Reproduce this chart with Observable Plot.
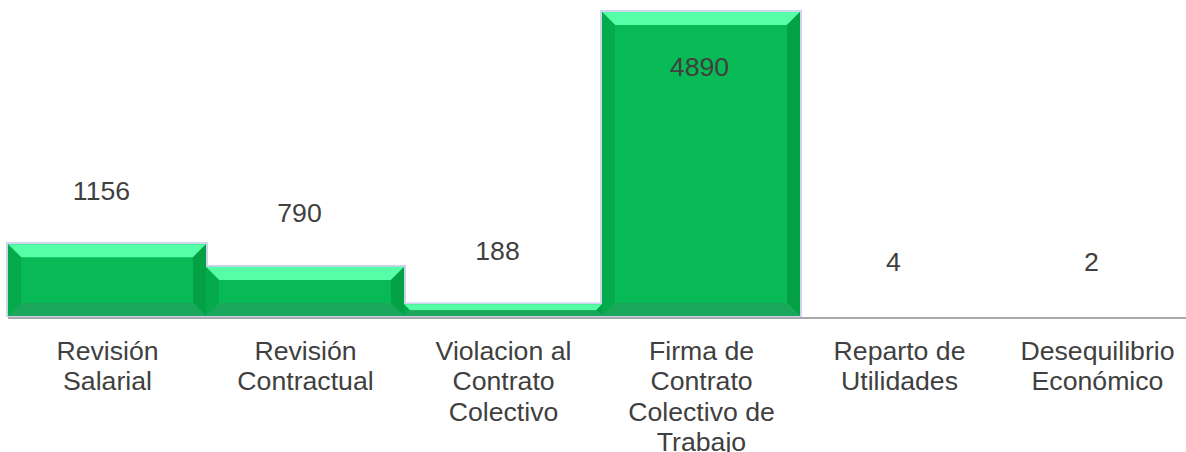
<!DOCTYPE html>
<html><head><meta charset="utf-8">
<script src="https://cdn.jsdelivr.net/npm/d3@7"></script>
<script src="https://cdn.jsdelivr.net/npm/@observablehq/plot@0.6"></script>
<style>body{margin:0;background:#fff;overflow:hidden;}</style>
</head><body><div id="chart"></div>
<script>
const categories = ["Revisión Salarial", "Revisión Contractual", "Violacion al Contrato Colectivo", "Firma de Contrato Colectivo de Trabajo", "Reparto de Utilidades", "Desequilibrio Económico"];
const tickLabels = ["Revisión\nSalarial", "Revisión\nContractual", "Violacion al\nContrato\nColectivo", "Firma de\nContrato\nColectivo de\nTrabajo", "Reparto de\nUtilidades", "Desequilibrio\nEconómico"];
const values = [1156, 790, 188, 4890, 4, 2];

const data = categories.map((c, i) => ({cat: c, value: values[i]}));
const maxV = d3.max(values);

function bevelRender(index, scales, vals, dims) {
  const bw = scales.x.bandwidth ? scales.x.bandwidth() : (dims.width - dims.marginLeft - dims.marginRight) / categories.length;
  const g = d3.create("svg:g");
  const glow = g.append("g");
  const bars = g.append("g");
  for (const i of index) {
    const x0 = vals.x[i], x1 = x0 + bw;
    const yt = Math.min(vals.y1[i], vals.y2[i]), yb = Math.max(vals.y1[i], vals.y2[i]);
    const h = yb - yt, w = x1 - x0;
    if (h < 2) continue;
    const b = Math.min(13, h / 2, w / 2);
    const poly = (pts, fill) => bars.append("polygon").attr("points", pts.map(p => p.join(",")).join(" ")).attr("fill", fill);
    glow.append("rect").attr("x", x0 - 1).attr("y", yt - 1).attr("width", w + 2).attr("height", h + 1)
      .attr("fill", "none").attr("stroke", "#cdd5ee").attr("stroke-width", 2);
    bars.append("rect").attr("x", x0).attr("y", yt).attr("width", w).attr("height", h).attr("fill", "#07BA56");
    poly([[x0, yt], [x1, yt], [x1 - b, yt + b], [x0 + b, yt + b]], "#55FEA7");
    poly([[x0, yt], [x0 + b, yt + b], [x0 + b, yb - b], [x0, yb]], "#05AA4B");
    poly([[x1, yt], [x1, yb], [x1 - b, yb - b], [x1 - b, yt + b]], "#03A044");
    poly([[x0, yb], [x1, yb], [x1 - b, yb - b], [x0 + b, yb - b]], "#1BA75B");
  }
  return g.node();
}

const chart = Plot.plot({
  width: 1186,
  height: 452,
  marginTop: 12,
  marginBottom: 136,
  marginLeft: 8,
  marginRight: -10,
  style: {fontFamily: "'Liberation Sans', Arial, sans-serif", fontSize: "26.67px", color: "#404040", background: "#fff"},
  x: {domain: categories, padding: 0, label: null},
  y: {domain: [0, maxV], axis: null},
  marks: [
    Plot.barY(data, {x: "cat", y: "value", render: bevelRender}),
    Plot.ruleY([0], {stroke: "#8c8c8c", strokeWidth: 1.5, dy: 1.5}),
    Plot.axisX({tickSize: 0, tickPadding: 22, label: null, tickFormat: d => tickLabels[categories.indexOf(d)], lineHeight: 1.14, fontSize: 26.67, fill: "#404040"}),
    Plot.text(data.filter(d => d.value < maxV), {x: "cat", y: "value", text: d => String(d.value), lineAnchor: "bottom", dy: -45, dx: -6, fill: "#404040", fontSize: 26.67}),
    Plot.text(data.filter(d => d.value === maxV), {x: "cat", y: "value", text: d => String(d.value), lineAnchor: "bottom", dy: 63, dx: -2, fill: "#404040", fontSize: 26.67})
  ]
});
document.getElementById("chart").append(chart);
</script>
</body></html>
